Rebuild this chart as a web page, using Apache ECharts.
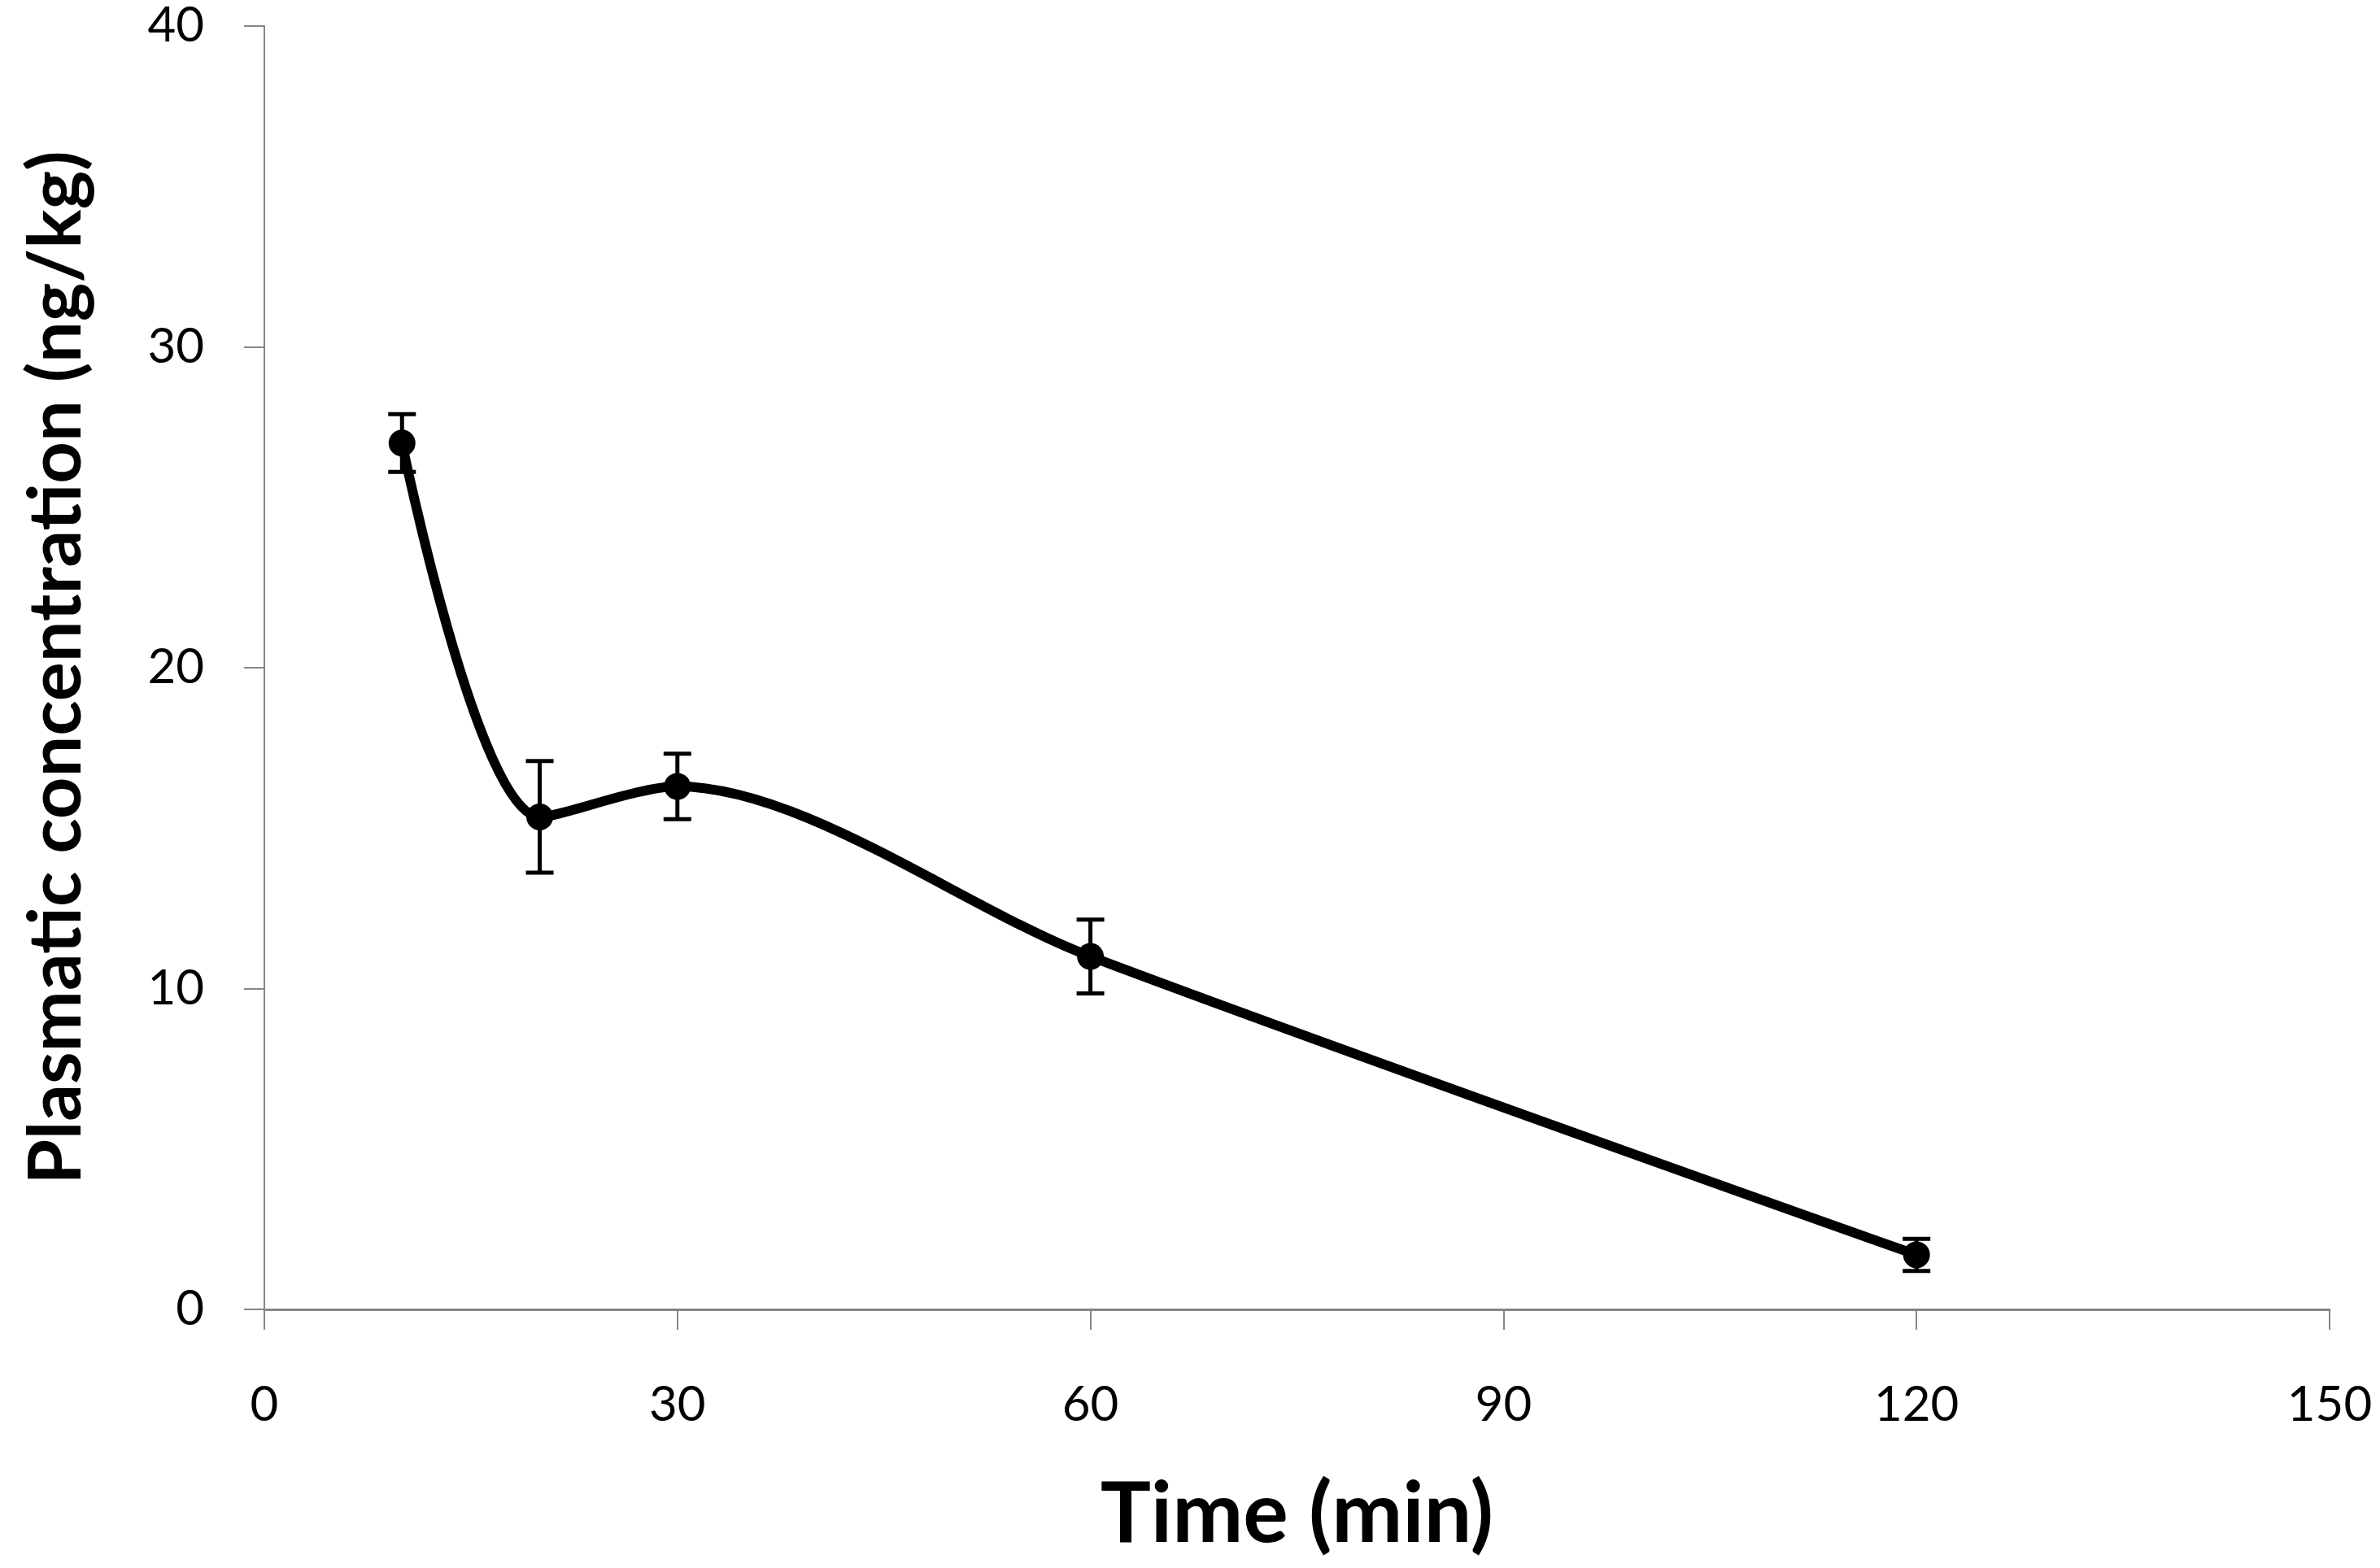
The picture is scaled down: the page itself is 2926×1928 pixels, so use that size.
<!DOCTYPE html>
<html>
<head>
  <meta charset="utf-8" />
  <title>Plasmatic concentration</title>
  <style>
    html, body { margin: 0; padding: 0; background: #fff; }
  </style>
</head>
<body>
  <div id="main" style="width: 2926px; height: 1928px"></div>
  <script src="https://cdn.jsdelivr.net/npm/echarts@6/dist/echarts.min.js"></script>
  <script>
    let times = [10, 20, 30, 60, 120];
    let concentration = [27.0, 15.35, 16.3, 11.0, 1.7];
    let errors = [0.9, 1.74, 1.02, 1.15, 0.5];
    let xTicks = [0, 30, 60, 90, 120, 150];
    let yTicks = [0, 10, 20, 30, 40];

    let axisGray = "#868686";
    let fontName = "Lato";

    let lineData = times.map(function (t, i) { return [t, concentration[i]]; });
    let errData = times.map(function (t, i) {
      return [t, concentration[i] - errors[i], concentration[i] + errors[i]];
    });

    option = {
      animation: false,
      backgroundColor: "#fff",
      grid: {
        left: 325,
        right: 62,
        top: 32,
        bottom: 318,
        outerBoundsMode: "none",
      },
      xAxis: {
        type: "value",
        min: xTicks[0],
        max: xTicks[xTicks.length - 1],
        interval: 30,
        name: "Time (min)",
        nameLocation: "middle",
        nameGap: 200,
        nameTextStyle: { fontFamily: fontName, fontWeight: "bold", fontSize: 104, color: "#000" },
        axisLine: { show: true, lineStyle: { color: axisGray, width: 3 } },
        axisTick: { show: true, length: 25, lineStyle: { color: axisGray, width: 2 } },
        axisLabel: { fontFamily: fontName, fontSize: 60, color: "#000", margin: 88 },
        splitLine: { show: false },
      },
      yAxis: {
        type: "value",
        min: yTicks[0],
        max: yTicks[yTicks.length - 1],
        interval: 10,
        name: "Plasmatic concentration (ng/kg)",
        nameLocation: "middle",
        nameGap: 210,
        nameTextStyle: { fontFamily: fontName, fontWeight: "bold", fontSize: 90, color: "#000" },
        axisLine: { show: true, lineStyle: { color: axisGray, width: 2 } },
        axisTick: { show: true, length: 25, lineStyle: { color: axisGray, width: 2 } },
        axisLabel: { fontFamily: fontName, fontSize: 60, color: "#000", margin: 74 },
        splitLine: { show: false },
      },
      series: [
        {
          name: "Concentration",
          type: "line",
          data: lineData,
          smooth: 0.3,
          symbol: "circle",
          symbolSize: 33,
          itemStyle: { color: "#000" },
          lineStyle: { color: "#000", width: 12 },
          z: 3,
        },
        {
          name: "Error",
          type: "custom",
          data: errData,
          z: 4,
          renderItem: function (params, api) {
            let x = api.value(0);
            let lo = api.coord([x, api.value(1)]);
            let hi = api.coord([x, api.value(2)]);
            let half = 17;
            let style = { stroke: "#000", lineWidth: 5 };
            return {
              type: "group",
              children: [
                { type: "line", shape: { x1: lo[0], y1: lo[1], x2: hi[0], y2: hi[1] }, style: style },
                { type: "line", shape: { x1: lo[0] - half, y1: lo[1], x2: lo[0] + half, y2: lo[1] }, style: style },
                { type: "line", shape: { x1: hi[0] - half, y1: hi[1], x2: hi[0] + half, y2: hi[1] }, style: style },
              ],
            };
          },
        },
      ],
    };

    chartLine = echarts.init(document.getElementById("main"));
    chartLine.setOption(option);
  </script>
</body>
</html>
